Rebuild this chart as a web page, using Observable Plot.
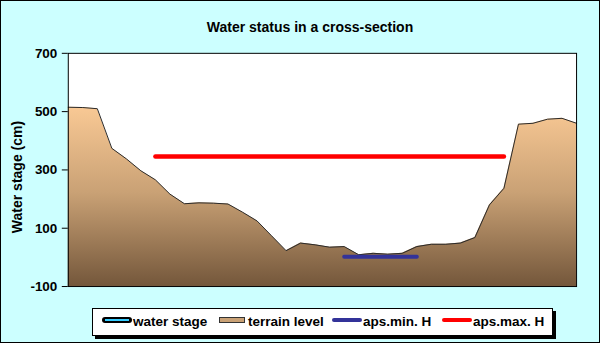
<!DOCTYPE html>
<html>
<head>
<meta charset="utf-8">
<script src="https://cdn.jsdelivr.net/npm/d3@7"></script>
<script src="https://cdn.jsdelivr.net/npm/@observablehq/plot@0.6"></script>
<style>
  body { margin: 0; }
  #chart { position: relative; width: 600px; height: 343px; background: #ccffff; box-sizing: border-box; border: 1px solid #000; overflow: hidden; font-family: "Liberation Sans", Arial, sans-serif; font-weight: bold; color: #000; }
  #chart svg { position: absolute; left: -1px; top: -1px; background: transparent; }
  .abs { position: absolute; white-space: nowrap; }
</style>
</head>
<body>
<div id="chart"></div>
<script>
// ---- data ----
const titleText = "Water status in a cross-section";
const yLabel = "Water stage (cm)";
const yTicks = [-100, 100, 300, 500, 700];
// terrain level at 36 equally spaced points across the section (cm)
const terrainLevel = [515, 514, 510, 374, 338, 297, 266, 217, 184, 187, 186, 183, 155, 125, 74, 23, 49, 43, 35, 37, 9, 14, 11, 14, 37, 45, 45, 49, 68, 180, 237, 457, 460, 474, 477, 460];
const waterStage = []; // no visible values
const apsMinSpan = [19, 24];
const apsMinH = 2;
const apsMaxSpan = [6, 30];
const apsMaxH = 346;
const legendLabels = ["water stage", "terrain level", "aps.min. H", "aps.max. H"];

const terrain = terrainLevel.map((v, i) => ({i, v}));

const chart = document.getElementById("chart");

const plot = Plot.plot({
  width: 600,
  height: 343,
  marginLeft: 68,
  marginRight: 22,
  marginTop: 53,
  marginBottom: 56,
  style: {fontFamily: "'Liberation Sans', Arial, sans-serif", fontSize: "13.5px", fontWeight: "bold", background: "transparent", color: "#000"},
  x: {domain: [0, terrainLevel.length - 1], axis: null},
  y: {domain: [-100, 700]},
  marks: [
    Plot.frame({fill: "white", stroke: "none"}),
    Plot.areaY(terrain, {x: "i", y1: -100, y2: "v", fill: "url(#terrainGrad)"}),
    Plot.lineY(terrain, {x: "i", y: "v", stroke: "#2a2a2a", strokeWidth: 1}),
    Plot.lineY(waterStage, {x: "i", y: "v", stroke: "#33ccff", strokeWidth: 3}),
    Plot.lineY(apsMaxSpan, {x: d => d, y: () => apsMaxH, stroke: "#ff0000", strokeWidth: 4.5, strokeLinecap: "round"}),
    Plot.lineY(apsMinSpan, {x: d => d, y: () => apsMinH, stroke: "#333399", strokeWidth: 4, strokeLinecap: "round"}),
    Plot.frame({stroke: "#000", strokeWidth: 1}),
    Plot.axisY({ticks: yTicks, tickSize: 6, tickPadding: 5, tickFormat: d => String(d), label: null, stroke: "#000"})
  ]
});

// gradient for the terrain fill
const ns = "http://www.w3.org/2000/svg";
const defs = document.createElementNS(ns, "defs");
defs.innerHTML = `<linearGradient id="terrainGrad" gradientUnits="userSpaceOnUse" x1="0" y1="100" x2="0" y2="287">
  <stop offset="0" stop-color="#fdcc97"/>
  <stop offset="0.5" stop-color="#c9a175"/>
  <stop offset="1" stop-color="#74573b"/>
</linearGradient>`;
plot.insertBefore(defs, plot.firstChild);
chart.appendChild(plot);

// title
const t = document.createElement("div");
t.className = "abs";
t.style.cssText = "left:309px;top:26px;transform:translate(-50%,-50%);font-size:14px;";
t.textContent = titleText;
chart.appendChild(t);

// y axis title
const yl = document.createElement("div");
yl.className = "abs";
yl.style.cssText = "left:16px;top:176px;transform:translate(-50%,-50%) rotate(-90deg);font-size:14px;";
yl.textContent = yLabel;
chart.appendChild(yl);

// legend box
const lb = document.createElement("div");
lb.className = "abs";
lb.style.cssText = "left:91px;top:307px;width:459px;height:26px;background:#fff;border:1px solid #000;box-shadow:3px 3px 0 #000;";
chart.appendChild(lb);

const swatches = [
  `<svg width="30" height="10"><line x1="3" y1="5" x2="27" y2="5" stroke="#000" stroke-width="6" stroke-linecap="round"/><line x1="3" y1="5" x2="27" y2="5" stroke="#33ccff" stroke-width="2"/></svg>`,
  `<svg width="30" height="10"><rect x="2.5" y="2.5" width="25" height="5" fill="#c9a175" stroke="#333" stroke-width="1"/></svg>`,
  `<svg width="30" height="10"><line x1="2" y1="5" x2="28" y2="5" stroke="#333399" stroke-width="4" stroke-linecap="round"/></svg>`,
  `<svg width="30" height="10"><line x1="2" y1="5" x2="28" y2="5" stroke="#ff0000" stroke-width="4" stroke-linecap="round"/></svg>`
];
const swX = [102, 217, 332, 442];
legendLabels.forEach((lab, k) => {
  const s = document.createElement("div");
  s.className = "abs";
  s.style.cssText = `left:${swX[k]}px;top:315px;height:10px;line-height:0;`;
  s.innerHTML = swatches[k];
  chart.appendChild(s);
  const tx = document.createElement("div");
  tx.className = "abs";
  tx.style.cssText = `left:${swX[k] + 30}px;top:320px;transform:translateY(-50%);font-size:13.5px;`;
  tx.textContent = lab;
  chart.appendChild(tx);
});
</script>
</body>
</html>
